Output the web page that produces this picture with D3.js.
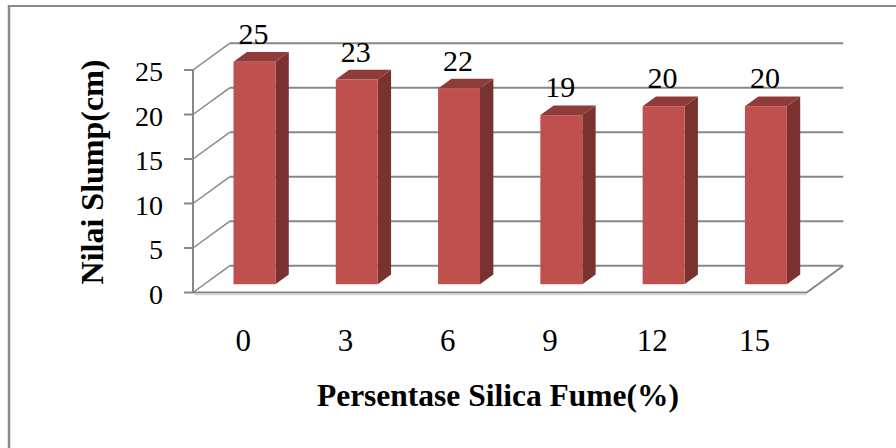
<!DOCTYPE html>
<html>
<head>
<meta charset="utf-8">
<script src="https://cdn.jsdelivr.net/npm/d3@7"></script>
<style>
  html, body { margin: 0; padding: 0; background: #fff; }
  svg { display: block; font-family: "Liberation Serif", "Times New Roman", serif; }
</style>
</head>
<body>
<svg id="chart" width="896" height="448"></svg>
<script>
// ---- data ----
const categories = ["0", "3", "6", "9", "12", "15"];
const slumpValues = [25, 23, 22, 19, 20, 20];
const yTicks = [0, 5, 10, 15, 20, 25];
const xTitle = "Persentase Silica Fume(%)";
const yTitle = "Nilai Slump(cm)";

// ---- layout ----
const svg = d3.select("#chart");
const front = { x0: 193, x1: 806.7, yTop: 70, yBot: 292.5 };
const depth = { dx: 36.6, dy: -26.7 };   // full depth of the 3D box
const barF0 = 0.31, barF1 = 0.675;        // bar depth range (fraction of box depth)
const gridColor = "#878787";

const x = d3.scaleBand().domain(categories).range([front.x0, front.x1]).padding(0);
const y = d3.scaleLinear().domain([0, 25]).range([front.yBot, front.yTop]);
const bw = x.bandwidth();

// Chart border (only top and left visible)
svg.append("line").attr("x1", 8).attr("x2", 896).attr("y1", 6).attr("y2", 6)
  .attr("stroke", "#8a8a8a").attr("stroke-width", 2);
svg.append("line").attr("x1", 9).attr("x2", 9).attr("y1", 5).attr("y2", 448)
  .attr("stroke", "#8a8a8a").attr("stroke-width", 2.5);

const g = svg.append("g");

// Back wall gridlines
g.selectAll("line.back").data(yTicks).join("line")
  .attr("class", "back")
  .attr("x1", front.x0 + depth.dx).attr("x2", front.x1 + depth.dx)
  .attr("y1", d => y(d) + depth.dy).attr("y2", d => y(d) + depth.dy)
  .attr("stroke", gridColor).attr("stroke-width", 2);

// Side wall diagonals
g.selectAll("line.side").data(yTicks).join("line")
  .attr("class", "side")
  .attr("x1", front.x0).attr("x2", front.x0 + depth.dx)
  .attr("y1", d => y(d)).attr("y2", d => y(d) + depth.dy)
  .attr("stroke", gridColor).attr("stroke-width", 1.5);

// Floor front edge and right edge
g.append("path")
  .attr("d", `M${front.x0},${y(0)} L${front.x1},${y(0)} L${front.x1 + depth.dx},${y(0) + depth.dy}`)
  .attr("fill", "none").attr("stroke", gridColor).attr("stroke-width", 2);
g.append("line")
  .attr("x1", front.x0 + 2).attr("x2", front.x1).attr("y1", y(0) + 2).attr("y2", y(0) + 2)
  .attr("stroke", "#d9d9d9").attr("stroke-width", 1.5);

// Vertical axis line and ticks
g.append("line").attr("x1", front.x0).attr("x2", front.x0)
  .attr("y1", y(25)).attr("y2", y(0))
  .attr("stroke", gridColor).attr("stroke-width", 2);
g.selectAll("line.tick").data(yTicks).join("line")
  .attr("class", "tick")
  .attr("x1", front.x0 - 9).attr("x2", front.x0)
  .attr("y1", d => y(d)).attr("y2", d => y(d))
  .attr("stroke", gridColor).attr("stroke-width", 2);

// Y tick labels
g.selectAll("text.ytick").data(yTicks).join("text")
  .attr("class", "ytick")
  .attr("x", 163).attr("y", d => y(d) + 11)
  .attr("text-anchor", "end")
  .attr("font-size", 28).attr("fill", "#000")
  .text(d => d);

// Bars
const f0 = { dx: depth.dx * barF0, dy: depth.dy * barF0 };
const bd = { dx: depth.dx * (barF1 - barF0), dy: depth.dy * (barF1 - barF0) };
const barW = bw * 0.41;
const barX = c => x(c) + f0.dx + bw * 0.285;
const barY = v => y(v) + f0.dy;

const bars = g.selectAll("g.bar").data(categories.map((c, i) => ({ c, v: slumpValues[i] })))
  .join("g").attr("class", "bar");

// side face
bars.append("path")
  .attr("d", d => {
    const xr = barX(d.c) + barW, yt = barY(d.v), yb = barY(0);
    return `M${xr},${yt} L${xr + bd.dx},${yt + bd.dy} L${xr + bd.dx},${yb + bd.dy} L${xr},${yb} Z`;
  })
  .attr("fill", "#7a3230");
// top face
bars.append("path")
  .attr("d", d => {
    const xl = barX(d.c), yt = barY(d.v);
    return `M${xl},${yt} L${xl + bd.dx},${yt + bd.dy} L${xl + barW + bd.dx},${yt + bd.dy} L${xl + barW},${yt} Z`;
  })
  .attr("fill", "#8f3b39");
// front face
bars.append("rect")
  .attr("x", d => barX(d.c)).attr("y", d => barY(d.v))
  .attr("width", barW).attr("height", d => barY(0) - barY(d.v))
  .attr("fill", "#c0504d");

// Data labels
bars.append("text")
  .attr("x", d => barX(d.c) + barW / 2 - 1)
  .attr("y", d => barY(d.v) + bd.dy - 8)
  .attr("text-anchor", "middle")
  .attr("font-size", 30).attr("fill", "#000")
  .text(d => d.v);

// X tick labels
g.selectAll("text.xtick").data(categories).join("text")
  .attr("class", "xtick")
  .attr("x", d => x(d) + bw / 2 - 1).attr("y", 351)
  .attr("text-anchor", "middle")
  .attr("font-size", 31).attr("fill", "#000")
  .text(d => d);

// Axis titles
svg.append("text")
  .attr("x", 498).attr("y", 406)
  .attr("text-anchor", "middle")
  .attr("font-size", 31.5).attr("font-weight", "bold").attr("fill", "#000")
  .text(xTitle);

svg.append("text")
  .attr("transform", "translate(103,172) rotate(-90)")
  .attr("text-anchor", "middle")
  .attr("font-size", 32).attr("font-weight", "bold").attr("fill", "#000")
  .text(yTitle);
</script>
</body>
</html>
